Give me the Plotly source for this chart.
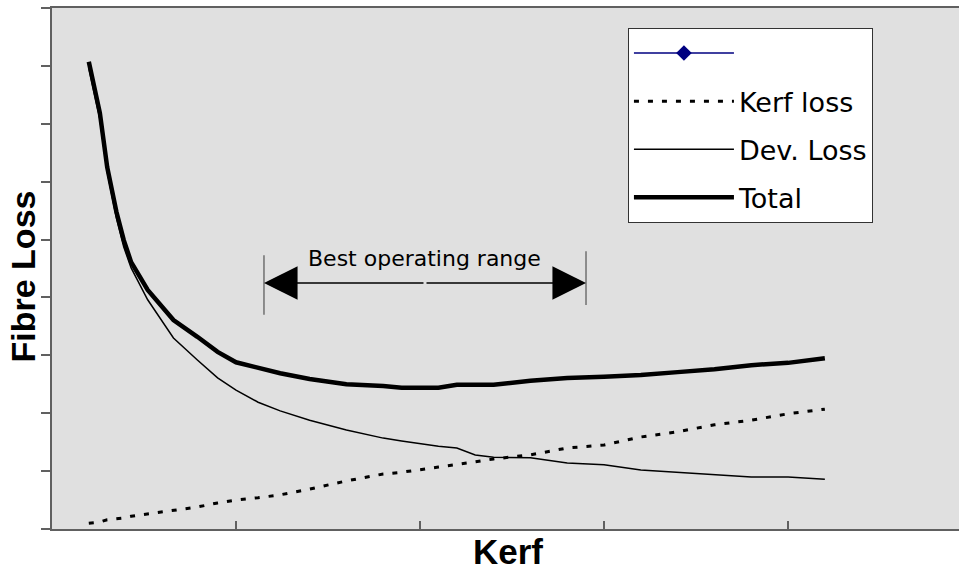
import plotly.graph_objects as go

# ---- data (axis units: x tick spacing = 1, y tick spacing = 1) ----
kerf = [0.2, 0.26, 0.3, 0.35, 0.39, 0.43, 0.52, 0.66, 0.79, 0.9, 1.0, 1.12, 1.24, 1.4,
        1.6, 1.8, 1.9, 2.1, 2.2, 2.3, 2.4, 2.6, 2.8, 3.0, 3.2, 3.4, 3.6, 3.8, 4.0, 4.2]
kerf_loss = [0.10, 0.12, 0.16, 0.17, 0.19, 0.22, 0.26, 0.31, 0.38, 0.45, 0.50, 0.54, 0.59, 0.69,
             0.83, 0.95, 0.98, 1.07, 1.11, 1.16, 1.21, 1.28, 1.40, 1.45, 1.59, 1.68, 1.80, 1.88, 1.99, 2.07]
dev_loss = [7.96, 7.08, 6.17, 5.37, 4.87, 4.51, 3.96, 3.30, 2.92, 2.61, 2.40, 2.19, 2.04, 1.88,
            1.71, 1.57, 1.52, 1.43, 1.40, 1.28, 1.24, 1.23, 1.14, 1.11, 1.02, 0.98, 0.93, 0.90, 0.90, 0.86]
total = [8.07, 7.19, 6.25, 5.48, 4.99, 4.61, 4.13, 3.61, 3.32, 3.06, 2.88, 2.78, 2.69, 2.59,
         2.50, 2.47, 2.44, 2.44, 2.49, 2.49, 2.49, 2.56, 2.61, 2.63, 2.66, 2.71, 2.76, 2.83, 2.87, 2.95]
empty_x = [None]           # the first (blue diamond) series has no drawn points
empty_y = [None]

series_names = [" ", "Kerf loss", "Dev. Loss", "Total"]
x_ticks = [0, 1, 2, 3, 4]
y_ticks = [0, 1, 2, 3, 4, 5, 6, 7, 8, 9]

# best operating range (in axis units)
range_start, range_end, range_level = 1.152, 2.902, 4.25
range_label = "Best operating range"

fig = go.Figure()
fig.add_trace(go.Scatter(x=empty_x, y=empty_y, name=series_names[0], mode="lines+markers",
                         line=dict(color="#000080", width=1.5),
                         marker=dict(symbol="diamond", size=12, color="#000080"),
                         legendgroup="a"))
fig.add_trace(go.Scatter(x=kerf, y=kerf_loss, name=series_names[1], mode="lines",
                         line=dict(color="black", width=3, dash="5px,9px"), legendgroup="b"))
fig.add_trace(go.Scatter(x=kerf, y=dev_loss, name=series_names[2], mode="lines",
                         line=dict(color="black", width=1.5), legendgroup="c"))
fig.add_trace(go.Scatter(x=kerf, y=total, name=series_names[3], mode="lines",
                         line=dict(color="black", width=4.5), legendgroup="d"))

axis_col = "#606060"
mid = (range_start + range_end) / 2
annotations = [
    dict(x=range_start, y=range_level, ax=mid, ay=range_level, xref="x", yref="y",
         axref="x", ayref="y", text="", showarrow=True, arrowhead=2, arrowsize=4.8,
         arrowwidth=1.4, arrowcolor="black", standoff=0),
    dict(x=range_end, y=range_level, ax=mid, ay=range_level, xref="x", yref="y",
         axref="x", ayref="y", text="", showarrow=True, arrowhead=2, arrowsize=4.8,
         arrowwidth=1.4, arrowcolor="black", standoff=0),
    dict(x=mid, y=range_level + 0.43, xref="x", yref="y", text=range_label, showarrow=False,
         font=dict(family="DejaVu Sans", size=22, color="black")),
    dict(x=0.503, y=-0.0845, xref="paper", yref="paper", text="<b>Kerf</b>", showarrow=False,
         yanchor="bottom", font=dict(family="Liberation Sans", size=35, color="black")),
    dict(x=-0.0318, y=0.485, xref="paper", yref="paper", text="<b>Fibre Loss</b>", showarrow=False,
         textangle=-90, xanchor="center", yanchor="middle",
         font=dict(family="Liberation Sans", size=34, color="black")),
]
shapes = [
    dict(type="line", xref="x", yref="y", x0=range_start, x1=range_start,
         y0=range_level - 0.55, y1=range_level + 0.48, line=dict(color="#707070", width=1.5)),
    dict(type="line", xref="x", yref="y", x0=range_end, x1=range_end,
         y0=range_level - 0.38, y1=range_level + 0.55, line=dict(color="#707070", width=1.5)),
]

fig.update_layout(
    width=959, height=573,
    margin=dict(l=52, r=0, t=8, b=44),
    paper_bgcolor="white", plot_bgcolor="#e0e0e0",
    font=dict(family="DejaVu Sans", color="black"),
    showlegend=True,
    legend=dict(x=0.635, y=0.9616, xanchor="left", yanchor="top",
                bgcolor="white", bordercolor="#333333", borderwidth=1,
                font=dict(family="DejaVu Sans", size=27, color="black"),
                itemwidth=100, tracegroupgap=10, traceorder="grouped"),
    xaxis=dict(range=[0, 4.929], tickvals=x_ticks, showticklabels=False, ticks="inside",
               ticklen=8, tickcolor=axis_col, tickwidth=1.5, showgrid=False, zeroline=False,
               showline=True, linecolor=axis_col, linewidth=2, mirror=True),
    yaxis=dict(range=[0, 9], tickvals=y_ticks, showticklabels=False, ticks="outside",
               ticklen=9, tickcolor=axis_col, tickwidth=1.5, showgrid=False, zeroline=False,
               showline=True, linecolor=axis_col, linewidth=2),
    annotations=annotations, shapes=shapes,
)

# remove the default page margin so the 959x573 figure fills the window exactly
fig.write_html("out.html", config={"displayModeBar": False},
               post_script="document.body.style.margin='0';document.body.style.overflow='hidden';")
